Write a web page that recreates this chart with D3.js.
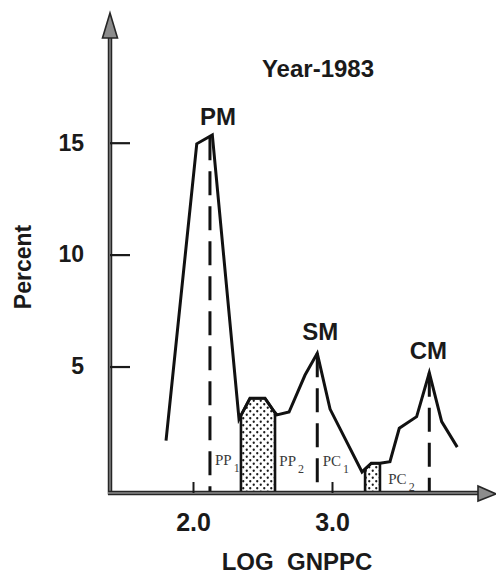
<!DOCTYPE html>
<html>
<head>
<meta charset="utf-8">
<script src="https://cdn.jsdelivr.net/npm/d3@7"></script>
<style>
  html, body { margin: 0; padding: 0; background: #fff; }
  svg { display: block; }
</style>
</head>
<body>
<svg id="chart" width="496" height="577"></svg>
<script>
// Share of countries by log GNP per capita, 1983
const logGnppc = [1.806, 2.027, 2.139, 2.331, 2.410, 2.518, 2.585, 2.604, 2.691, 2.806, 2.894,
                  2.986, 3.216, 3.283, 3.345, 3.417, 3.484, 3.609, 3.700, 3.789, 3.901];
const percent  = [1.69, 14.95, 15.35, 2.65, 3.58, 3.58, 2.98, 2.84, 2.97, 4.62, 5.59,
                  3.10, 0.29, 0.68, 0.68, 0.75, 2.24, 2.76, 4.72, 2.54, 1.40];

const xTickValues = [2.0, 3.0];
const yTickValues = [5, 10, 15];

// modes of the distribution
const modeNames = ["PM", "SM", "CM"];
const modeLogGnppc = [2.122, 2.894, 3.700];

// stippled bands
const shadedFrom = [2.345, 3.238];
const shadedTo   = [2.590, 3.345];

// band labels
const bandNames = ["PP", "PP", "PC", "PC"];
const bandSubs  = ["1", "2", "1", "2"];

const titleText = "Year-1983";
const xTitle = "LOG  GNPPC";
const yTitle = "Percent";

// ---- layout ----
const axisLeftX = 110, axisBottomY = 493;
const yAxisTop = 13, xAxisRight = 496;
const bandLabelPos = [[2.158, 0.6], [2.621, 0.55], [2.933, 0.55], [3.405, -0.25]];
const modeLabelShift = [[8, -10], [3, -13], [-1, -14]];
const sansFont = "'Liberation Sans', Arial, Helvetica, sans-serif";
const serifFont = "'Liberation Serif', 'Times New Roman', serif";

const svg = d3.select("#chart");

const x = d3.scaleLinear().domain([2, 3]).range([193, 332]);
const y = d3.scaleLinear().domain([-0.65, 15]).range([axisBottomY, 142.7]);
const baseVal = y.domain()[0];

const pts = logGnppc.map((v, i) => [v, percent[i]]);
const valueAt = lg => {
  for (let i = 0; i < pts.length - 1; i++) {
    const [x0, y0] = pts[i], [x1, y1] = pts[i + 1];
    if (lg >= x0 && lg <= x1) return y0 + (y1 - y0) * (lg - x0) / (x1 - x0);
  }
  return null;
};

// stipple pattern
const defs = svg.append("defs");
const pat = defs.append("pattern")
  .attr("id", "stipple").attr("patternUnits", "userSpaceOnUse")
  .attr("width", 7).attr("height", 7);
pat.append("rect").attr("width", 7).attr("height", 7).attr("fill", "#fff");
pat.append("circle").attr("cx", 1.75).attr("cy", 1.75).attr("r", 1.15).attr("fill", "#1a1a1a");
pat.append("circle").attr("cx", 5.25).attr("cy", 5.25).attr("r", 1.15).attr("fill", "#1a1a1a");

// shaded bands under the curve
const line = d3.line().x(d => x(d[0])).y(d => y(d[1])).curve(d3.curveLinear);
shadedFrom.forEach((a, i) => {
  const b = shadedTo[i];
  const poly = [[a, baseVal], [a, valueAt(a)]]
    .concat(pts.filter(p => p[0] > a && p[0] < b))
    .concat([[b, valueAt(b)], [b, baseVal]]);
  svg.append("path")
    .attr("d", line(poly) + "Z")
    .attr("fill", "url(#stipple)")
    .attr("stroke", "#111").attr("stroke-width", 2.6)
    .attr("stroke-linejoin", "miter");
});

// dashed lines at the modes
modeLogGnppc.forEach(m => {
  svg.append("line")
    .attr("x1", x(m)).attr("x2", x(m))
    .attr("y1", y(valueAt(m))).attr("y2", y(baseVal))
    .attr("stroke", "#111").attr("stroke-width", 3)
    .attr("stroke-dasharray", "24 11");
});

// distribution curve
svg.append("path")
  .datum(pts)
  .attr("d", line)
  .attr("fill", "none")
  .attr("stroke", "#111")
  .attr("stroke-width", 3)
  .attr("stroke-linejoin", "miter");

// axes lines (dark edge with grey core)
function axisLine(x1, y1, x2, y2) {
  svg.append("line").attr("x1", x1).attr("y1", y1).attr("x2", x2).attr("y2", y2)
    .attr("stroke", "#262626").attr("stroke-width", 4.5);
  svg.append("line").attr("x1", x1).attr("y1", y1).attr("x2", x2).attr("y2", y2)
    .attr("stroke", "#8c8c8c").attr("stroke-width", 1.4);
}
axisLine(axisLeftX, axisBottomY + 1.5, axisLeftX, yAxisTop + 20);
axisLine(axisLeftX - 2, axisBottomY, xAxisRight - 14, axisBottomY);

svg.append("path")
  .attr("d", `M${axisLeftX},${yAxisTop} L${axisLeftX - 7.5},${yAxisTop + 25} L${axisLeftX + 7.5},${yAxisTop + 25} Z`)
  .attr("fill", "#8c8c8c").attr("stroke", "#262626").attr("stroke-width", 1.6);
svg.append("path")
  .attr("d", `M${xAxisRight},${axisBottomY + 1} L${xAxisRight - 18},${axisBottomY - 7} L${xAxisRight - 18},${axisBottomY + 8} Z`)
  .attr("fill", "#8c8c8c").attr("stroke", "#262626").attr("stroke-width", 1.6);

// y axis ticks and labels
const yAxisG = svg.append("g")
  .attr("transform", `translate(${axisLeftX},0)`)
  .call(d3.axisLeft(y).tickValues(yTickValues).tickSize(-20).tickPadding(26).tickFormat(d3.format("d")));
yAxisG.select(".domain").remove();
yAxisG.selectAll(".tick line").attr("stroke", "#1a1a1a").attr("stroke-width", 2.2);
yAxisG.selectAll(".tick text")
  .attr("font-family", sansFont).attr("font-size", 23).attr("font-weight", "bold")
  .attr("fill", "#1a1a1a");

// x axis ticks and labels
const xAxisG = svg.append("g")
  .attr("transform", `translate(0,${axisBottomY})`)
  .call(d3.axisBottom(x).tickValues(xTickValues).tickSize(-11).tickPadding(20).tickFormat(d3.format(".1f")));
xAxisG.select(".domain").remove();
xAxisG.selectAll(".tick line").attr("stroke", "#1a1a1a").attr("stroke-width", 2);
xAxisG.selectAll(".tick text")
  .attr("font-family", sansFont).attr("font-size", 25).attr("font-weight", "bold")
  .attr("fill", "#1a1a1a");

// axis titles
svg.append("text")
  .attr("x", 297).attr("y", 570)
  .attr("text-anchor", "middle")
  .attr("font-family", sansFont).attr("font-size", 24).attr("font-weight", "bold")
  .attr("fill", "#1a1a1a").style("white-space", "pre")
  .text(xTitle);

svg.append("text")
  .attr("transform", "translate(31,267) rotate(-90)")
  .attr("text-anchor", "middle")
  .attr("font-family", sansFont).attr("font-size", 23).attr("font-weight", "bold")
  .attr("fill", "#1a1a1a")
  .text(yTitle);

// title
svg.append("text")
  .attr("x", 318).attr("y", 77)
  .attr("text-anchor", "middle")
  .attr("font-family", sansFont).attr("font-size", 24).attr("font-weight", "bold")
  .attr("fill", "#1a1a1a")
  .text(titleText);

// mode labels
modeNames.forEach((name, i) => {
  const m = modeLogGnppc[i];
  const top = Math.max(...pts.filter(p => Math.abs(p[0] - m) < 0.03).map(p => p[1]), valueAt(m));
  svg.append("text")
    .attr("x", x(m) + modeLabelShift[i][0])
    .attr("y", y(top) + modeLabelShift[i][1])
    .attr("text-anchor", "middle")
    .attr("font-family", sansFont).attr("font-size", 24).attr("font-weight", "bold")
    .attr("fill", "#1a1a1a")
    .text(name);
});

// band labels with subscripts
bandNames.forEach((name, i) => {
  const t = svg.append("text")
    .attr("x", x(bandLabelPos[i][0]))
    .attr("y", y(bandLabelPos[i][1]))
    .attr("font-family", serifFont).attr("font-size", 15)
    .attr("fill", "#3a3a3a");
  t.append("tspan").text(name);
  t.append("tspan").attr("dx", 2).attr("dy", 7).attr("font-size", 12).text(bandSubs[i]);
});
</script>
</body>
</html>
